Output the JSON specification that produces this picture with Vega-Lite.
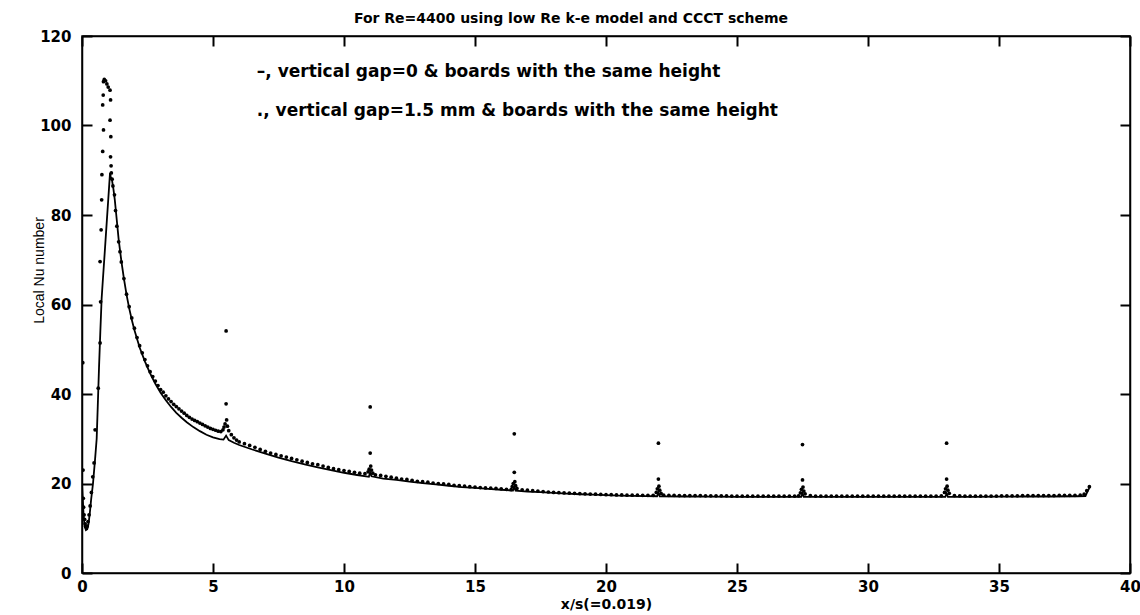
{
  "$schema": "https://vega.github.io/schema/vega-lite/v6.json",
  "autosize": {"type": "none"},
  "width": 1048,
  "height": 537,
  "padding": {"left": 82, "top": 36, "right": 10, "bottom": 42},
  "background": "white",
  "config": {
    "view": {"stroke": "black", "strokeWidth": 1.5},
    "axis": {"grid": false, "domainColor": "black", "domainWidth": 1.5, "tickColor": "#000000", "tickWidth": 2, "tickOpacity": 1, "labelColor": "black", "titleColor": "black"}
  },
  "title": {"text": "For Re=4400 using low Re k-e model and CCCT scheme", "font": "DejaVu Sans", "fontSize": 14, "fontWeight": "bold", "color": "black", "offset": 3, "dx": -35},
  "datasets": {
    "solid": [
      {"x": 0, "y": 20}, {"x": 0.03, "y": 16.5}, {"x": 0.06, "y": 13}, {"x": 0.1, "y": 10.5}, {"x": 0.15, "y": 9.6}, {"x": 0.2, "y": 9.8}, {"x": 0.25, "y": 11}, {"x": 0.3, "y": 13.5}, {"x": 0.35, "y": 16.5}, {"x": 0.42, "y": 20}, {"x": 0.5, "y": 25.5}, {"x": 0.56, "y": 30}, {"x": 0.6, "y": 37}, {"x": 0.65, "y": 46}, {"x": 0.7, "y": 54}, {"x": 0.75, "y": 61.4}, {"x": 0.8, "y": 65.8}, {"x": 0.85, "y": 70.1}, {"x": 0.9, "y": 74.5}, {"x": 0.95, "y": 78.9}, {"x": 1.0, "y": 83.3}, {"x": 1.04, "y": 86.8}, {"x": 1.07, "y": 89.4}, {"x": 1.1, "y": 88.5}, {"x": 1.15, "y": 87.6}, {"x": 1.2, "y": 85.8}, {"x": 1.25, "y": 83.5}, {"x": 1.3, "y": 80.5}, {"x": 1.4, "y": 74.5}, {"x": 1.5, "y": 69.8}, {"x": 1.6, "y": 65.8}, {"x": 1.7, "y": 62.2}, {"x": 1.8, "y": 59.2}, {"x": 1.9, "y": 56.6}, {"x": 2.0, "y": 54.3}, {"x": 2.2, "y": 50.4}, {"x": 2.4, "y": 47.3}, {"x": 2.6, "y": 44.6}, {"x": 2.8, "y": 42.3}, {"x": 3.0, "y": 40.3}, {"x": 3.2, "y": 38.6}, {"x": 3.4, "y": 37.1}, {"x": 3.6, "y": 35.8}, {"x": 3.8, "y": 34.7}, {"x": 4.0, "y": 33.7}, {"x": 4.25, "y": 32.6}, {"x": 4.5, "y": 31.7}, {"x": 4.75, "y": 30.9}, {"x": 5.0, "y": 30.3}, {"x": 5.25, "y": 29.9}, {"x": 5.4, "y": 29.8}, {"x": 5.5, "y": 30.7}, {"x": 5.55, "y": 30.2}, {"x": 5.6, "y": 29.7}, {"x": 5.8, "y": 29.1}, {"x": 6.0, "y": 28.6}, {"x": 6.5, "y": 27.6}, {"x": 7.0, "y": 26.7}, {"x": 7.5, "y": 25.8}, {"x": 8.0, "y": 25.0}, {"x": 8.5, "y": 24.3}, {"x": 9.0, "y": 23.6}, {"x": 9.5, "y": 23.0}, {"x": 10.0, "y": 22.4}, {"x": 10.5, "y": 21.9}, {"x": 10.95, "y": 21.5}, {"x": 11.0, "y": 22.5}, {"x": 11.05, "y": 21.6}, {"x": 11.5, "y": 21.1}, {"x": 12.0, "y": 20.8}, {"x": 12.5, "y": 20.4}, {"x": 13.0, "y": 20.1}, {"x": 13.5, "y": 19.8}, {"x": 14.0, "y": 19.5}, {"x": 14.5, "y": 19.2}, {"x": 15.0, "y": 19.0}, {"x": 15.5, "y": 18.8}, {"x": 16.0, "y": 18.6}, {"x": 16.45, "y": 18.4}, {"x": 16.5, "y": 19.3}, {"x": 16.55, "y": 18.4}, {"x": 17.0, "y": 18.2}, {"x": 17.5, "y": 18.05}, {"x": 18.0, "y": 17.9}, {"x": 18.5, "y": 17.75}, {"x": 19.0, "y": 17.6}, {"x": 19.5, "y": 17.5}, {"x": 20.0, "y": 17.4}, {"x": 20.5, "y": 17.3}, {"x": 21.0, "y": 17.25}, {"x": 21.5, "y": 17.2}, {"x": 21.95, "y": 17.15}, {"x": 22.0, "y": 18.0}, {"x": 22.05, "y": 17.15}, {"x": 23.0, "y": 17.1}, {"x": 24.0, "y": 17.05}, {"x": 25.0, "y": 17.0}, {"x": 26.0, "y": 17.0}, {"x": 27.0, "y": 17.0}, {"x": 27.45, "y": 17.0}, {"x": 27.5, "y": 17.8}, {"x": 27.55, "y": 17.0}, {"x": 28.0, "y": 17.0}, {"x": 29.0, "y": 17.0}, {"x": 30.0, "y": 17.0}, {"x": 31.0, "y": 17.0}, {"x": 32.0, "y": 17.0}, {"x": 32.95, "y": 17.0}, {"x": 33.0, "y": 17.8}, {"x": 33.05, "y": 17.0}, {"x": 34.0, "y": 17.0}, {"x": 35.0, "y": 17.05}, {"x": 36.0, "y": 17.1}, {"x": 37.0, "y": 17.1}, {"x": 38.0, "y": 17.15}, {"x": 38.3, "y": 17.2}, {"x": 38.4, "y": 18.5}, {"x": 38.45, "y": 19.0}
    ],
    "dots": [
      {"x": 0.03, "y": 47}, {"x": 0.04, "y": 23}, {"x": 0.05, "y": 16.7}, {"x": 0.06, "y": 14.7}, {"x": 0.08, "y": 13}, {"x": 0.1, "y": 12}, {"x": 0.12, "y": 11}, {"x": 0.14, "y": 10.4}, {"x": 0.17, "y": 10.1}, {"x": 0.2, "y": 10.5}, {"x": 0.23, "y": 11.5}, {"x": 0.27, "y": 13}, {"x": 0.31, "y": 15}, {"x": 0.36, "y": 18}, {"x": 0.41, "y": 21.5}, {"x": 0.46, "y": 24.6}, {"x": 0.5, "y": 32}, {"x": 0.62, "y": 41.3}, {"x": 0.69, "y": 51.4}, {"x": 0.71, "y": 60.6}, {"x": 0.69, "y": 69.6}, {"x": 0.73, "y": 76.7}, {"x": 0.75, "y": 83.4}, {"x": 0.76, "y": 89}, {"x": 0.79, "y": 94.2}, {"x": 0.82, "y": 99}, {"x": 0.79, "y": 104.6}, {"x": 0.81, "y": 106.8}, {"x": 0.82, "y": 109.8}, {"x": 0.85, "y": 110.3}, {"x": 0.9, "y": 110}, {"x": 0.95, "y": 109.3}, {"x": 1.0, "y": 108.6}, {"x": 1.07, "y": 107.9}, {"x": 1.09, "y": 105.7}, {"x": 1.07, "y": 101.2}, {"x": 1.1, "y": 97.5}, {"x": 1.09, "y": 93}, {"x": 1.11, "y": 91}, {"x": 1.12, "y": 89.4}, {"x": 1.15, "y": 88}, {"x": 1.18, "y": 86.5}, {"x": 1.24, "y": 84.5}, {"x": 1.28, "y": 81}, {"x": 1.33, "y": 77.5}, {"x": 1.4, "y": 74}, {"x": 1.45, "y": 71.8}, {"x": 1.5, "y": 69.5}, {"x": 1.6, "y": 65.8}, {"x": 1.7, "y": 62.3}, {"x": 1.8, "y": 59.5}, {"x": 1.9, "y": 57}, {"x": 2.0, "y": 54.7}, {"x": 2.1, "y": 52.6}, {"x": 2.2, "y": 50.8}, {"x": 2.3, "y": 49.2}, {"x": 2.4, "y": 47.7}, {"x": 2.5, "y": 46.3}, {"x": 2.6, "y": 45.0}, {"x": 2.7, "y": 43.9}, {"x": 2.8, "y": 42.9}, {"x": 2.9, "y": 41.9}, {"x": 3.0, "y": 41.0}, {"x": 3.1, "y": 40.4}, {"x": 3.2, "y": 39.6}, {"x": 3.3, "y": 38.9}, {"x": 3.4, "y": 38.3}, {"x": 3.5, "y": 37.7}, {"x": 3.6, "y": 37.2}, {"x": 3.7, "y": 36.7}, {"x": 3.8, "y": 36.2}, {"x": 3.9, "y": 35.7}, {"x": 4.0, "y": 35.2}, {"x": 4.1, "y": 34.8}, {"x": 4.2, "y": 34.4}, {"x": 4.3, "y": 34.1}, {"x": 4.4, "y": 33.8}, {"x": 4.5, "y": 33.5}, {"x": 4.6, "y": 33.2}, {"x": 4.7, "y": 32.9}, {"x": 4.8, "y": 32.6}, {"x": 4.9, "y": 32.3}, {"x": 5.0, "y": 32.1}, {"x": 5.1, "y": 31.9}, {"x": 5.2, "y": 31.7}, {"x": 5.3, "y": 31.6}, {"x": 5.38, "y": 32.0}, {"x": 5.42, "y": 32.6}, {"x": 5.46, "y": 33.3}, {"x": 5.5, "y": 54.1}, {"x": 5.5, "y": 37.8}, {"x": 5.52, "y": 34.2}, {"x": 5.55, "y": 32.8}, {"x": 5.6, "y": 31.8}, {"x": 5.7, "y": 30.9}, {"x": 5.8, "y": 30.2}, {"x": 5.9, "y": 29.7},
      {"x": 6.0, "y": 29.3}, {"x": 6.2, "y": 28.9}, {"x": 6.4, "y": 28.5}, {"x": 6.6, "y": 28.1}, {"x": 6.8, "y": 27.6}, {"x": 7.0, "y": 27.2}, {"x": 7.2, "y": 26.8}, {"x": 7.4, "y": 26.5}, {"x": 7.6, "y": 26.2}, {"x": 7.8, "y": 25.9}, {"x": 8.0, "y": 25.6}, {"x": 8.2, "y": 25.3}, {"x": 8.4, "y": 25.0}, {"x": 8.6, "y": 24.7}, {"x": 8.8, "y": 24.4}, {"x": 9.0, "y": 24.2}, {"x": 9.2, "y": 23.9}, {"x": 9.4, "y": 23.6}, {"x": 9.6, "y": 23.3}, {"x": 9.8, "y": 23.1}, {"x": 10.0, "y": 22.9}, {"x": 10.2, "y": 22.7}, {"x": 10.4, "y": 22.5}, {"x": 10.6, "y": 22.3}, {"x": 10.8, "y": 22.2},
      {"x": 10.92, "y": 22.6}, {"x": 10.96, "y": 23.2}, {"x": 11.0, "y": 37.1}, {"x": 11.0, "y": 26.8}, {"x": 11.02, "y": 23.9}, {"x": 11.05, "y": 23.0}, {"x": 11.1, "y": 22.3}, {"x": 11.2, "y": 21.95},
      {"x": 11.4, "y": 21.8}, {"x": 11.6, "y": 21.6}, {"x": 11.8, "y": 21.4}, {"x": 12.0, "y": 21.2}, {"x": 12.2, "y": 21.0}, {"x": 12.4, "y": 20.9}, {"x": 12.6, "y": 20.7}, {"x": 12.8, "y": 20.5}, {"x": 13.0, "y": 20.4}, {"x": 13.2, "y": 20.3}, {"x": 13.4, "y": 20.1}, {"x": 13.6, "y": 20.0}, {"x": 13.8, "y": 19.9}, {"x": 14.0, "y": 19.8}, {"x": 14.2, "y": 19.6}, {"x": 14.4, "y": 19.5}, {"x": 14.6, "y": 19.4}, {"x": 14.8, "y": 19.3}, {"x": 15.0, "y": 19.2}, {"x": 15.2, "y": 19.1}, {"x": 15.4, "y": 19.0}, {"x": 15.6, "y": 18.95}, {"x": 15.8, "y": 18.9}, {"x": 16.0, "y": 18.8}, {"x": 16.2, "y": 18.7}, {"x": 16.38, "y": 18.65},
      {"x": 16.42, "y": 19.3}, {"x": 16.46, "y": 20.0}, {"x": 16.5, "y": 31.1}, {"x": 16.5, "y": 22.5}, {"x": 16.52, "y": 20.4}, {"x": 16.55, "y": 19.5}, {"x": 16.6, "y": 18.9},
      {"x": 16.8, "y": 18.6}, {"x": 17.0, "y": 18.5}, {"x": 17.2, "y": 18.4}, {"x": 17.4, "y": 18.3}, {"x": 17.6, "y": 18.2}, {"x": 17.8, "y": 18.1}, {"x": 18.0, "y": 18.0}, {"x": 18.2, "y": 17.95}, {"x": 18.4, "y": 17.9}, {"x": 18.6, "y": 17.85}, {"x": 18.8, "y": 17.8}, {"x": 19.0, "y": 17.75}, {"x": 19.2, "y": 17.7}, {"x": 19.4, "y": 17.65}, {"x": 19.6, "y": 17.6}, {"x": 19.8, "y": 17.55}, {"x": 20.0, "y": 17.5}, {"x": 20.2, "y": 17.5}, {"x": 20.4, "y": 17.45}, {"x": 20.6, "y": 17.45}, {"x": 20.8, "y": 17.4}, {"x": 21.0, "y": 17.4}, {"x": 21.2, "y": 17.4}, {"x": 21.4, "y": 17.35}, {"x": 21.6, "y": 17.35}, {"x": 21.8, "y": 17.35},
      {"x": 21.92, "y": 18.0}, {"x": 21.96, "y": 18.8}, {"x": 22.0, "y": 29.0}, {"x": 22.0, "y": 21.0}, {"x": 22.02, "y": 19.4}, {"x": 22.05, "y": 18.5}, {"x": 22.1, "y": 17.8},
      {"x": 22.2, "y": 17.4}, {"x": 22.4, "y": 17.35}, {"x": 22.6, "y": 17.35}, {"x": 22.8, "y": 17.3}, {"x": 23.0, "y": 17.3}, {"x": 23.2, "y": 17.3}, {"x": 23.4, "y": 17.3}, {"x": 23.6, "y": 17.3}, {"x": 23.8, "y": 17.25}, {"x": 24.0, "y": 17.25}, {"x": 24.2, "y": 17.25}, {"x": 24.4, "y": 17.25}, {"x": 24.6, "y": 17.25}, {"x": 24.8, "y": 17.2}, {"x": 25.0, "y": 17.2}, {"x": 25.2, "y": 17.2}, {"x": 25.4, "y": 17.2}, {"x": 25.6, "y": 17.2}, {"x": 25.8, "y": 17.2}, {"x": 26.0, "y": 17.2}, {"x": 26.2, "y": 17.2}, {"x": 26.4, "y": 17.2}, {"x": 26.6, "y": 17.2}, {"x": 26.8, "y": 17.2}, {"x": 27.0, "y": 17.2}, {"x": 27.2, "y": 17.2}, {"x": 27.35, "y": 17.25},
      {"x": 27.42, "y": 17.9}, {"x": 27.46, "y": 18.7}, {"x": 27.5, "y": 28.7}, {"x": 27.5, "y": 20.8}, {"x": 27.52, "y": 19.2}, {"x": 27.55, "y": 18.3}, {"x": 27.6, "y": 17.7},
      {"x": 27.8, "y": 17.3}, {"x": 28.0, "y": 17.2}, {"x": 28.2, "y": 17.2}, {"x": 28.4, "y": 17.2}, {"x": 28.6, "y": 17.2}, {"x": 28.8, "y": 17.2}, {"x": 29.0, "y": 17.2}, {"x": 29.2, "y": 17.2}, {"x": 29.4, "y": 17.2}, {"x": 29.6, "y": 17.2}, {"x": 29.8, "y": 17.2}, {"x": 30.0, "y": 17.2}, {"x": 30.2, "y": 17.2}, {"x": 30.4, "y": 17.2}, {"x": 30.6, "y": 17.2}, {"x": 30.8, "y": 17.2}, {"x": 31.0, "y": 17.2}, {"x": 31.2, "y": 17.2}, {"x": 31.4, "y": 17.2}, {"x": 31.6, "y": 17.2}, {"x": 31.8, "y": 17.2}, {"x": 32.0, "y": 17.2}, {"x": 32.2, "y": 17.2}, {"x": 32.4, "y": 17.2}, {"x": 32.6, "y": 17.2}, {"x": 32.8, "y": 17.25},
      {"x": 32.92, "y": 18.0}, {"x": 32.96, "y": 18.8}, {"x": 33.0, "y": 29.0}, {"x": 33.0, "y": 21.0}, {"x": 33.02, "y": 19.4}, {"x": 33.05, "y": 18.5}, {"x": 33.1, "y": 17.8},
      {"x": 33.3, "y": 17.3}, {"x": 33.5, "y": 17.25}, {"x": 33.7, "y": 17.2}, {"x": 33.9, "y": 17.2}, {"x": 34.1, "y": 17.2}, {"x": 34.3, "y": 17.2}, {"x": 34.5, "y": 17.2}, {"x": 34.7, "y": 17.2}, {"x": 34.9, "y": 17.2}, {"x": 35.1, "y": 17.25}, {"x": 35.3, "y": 17.25}, {"x": 35.5, "y": 17.25}, {"x": 35.7, "y": 17.25}, {"x": 35.9, "y": 17.3}, {"x": 36.1, "y": 17.3}, {"x": 36.3, "y": 17.3}, {"x": 36.5, "y": 17.3}, {"x": 36.7, "y": 17.3}, {"x": 36.9, "y": 17.3}, {"x": 37.1, "y": 17.3}, {"x": 37.3, "y": 17.35}, {"x": 37.5, "y": 17.35}, {"x": 37.7, "y": 17.35}, {"x": 37.9, "y": 17.35}, {"x": 38.1, "y": 17.4}, {"x": 38.25, "y": 17.6}, {"x": 38.35, "y": 18.4}, {"x": 38.45, "y": 19.3}
    ]
  },
  "resolve": {"axis": {"x": "independent", "y": "independent"}},
  "layer": [
    {
      "data": {"name": "solid"},
      "mark": {"type": "line", "color": "black", "strokeWidth": 1.8, "clip": true},
      "encoding": {
        "x": {"field": "x", "type": "quantitative", "scale": {"domain": [0, 40], "nice": false, "zero": false},
          "axis": {"orient": "bottom", "values": [0, 5, 10, 15, 20, 25, 30, 35, 40], "ticks": true, "tickSize": -10, "labelPadding": 16, "labelFont": "DejaVu Sans", "labelFontSize": 15, "labelFontWeight": "bold", "title": "x/s(=0.019)", "titleFont": "DejaVu Sans", "titleFontSize": 14, "titleFontWeight": "bold", "titlePadding": 3, "labelFlush": false}},
        "y": {"field": "y", "type": "quantitative", "scale": {"domain": [0, 120], "nice": false, "zero": false},
          "axis": {"orient": "left", "values": [0, 20, 40, 60, 80, 100, 120], "ticks": true, "tickSize": -10, "labelPadding": 21, "labelFont": "DejaVu Sans", "labelFontSize": 15, "labelFontWeight": "bold", "title": "Local Nu number", "titleFont": "Liberation Sans Narrow, Liberation Sans", "titleFontSize": 14, "titleFontWeight": "normal", "titleX": -43, "titleY": 234, "titleBaseline": "middle", "titleAlign": "center", "titleAngle": -90}}
      }
    },
    {
      "data": {"name": "dots"},
      "mark": {"type": "point", "filled": true, "color": "black", "size": 14, "opacity": 1, "clip": true},
      "encoding": {
        "x": {"field": "x", "type": "quantitative", "axis": {"orient": "top", "values": [0, 5, 10, 15, 20, 25, 30, 35, 40], "ticks": true, "tickSize": -10, "domain": true, "labels": false, "title": null}},
        "y": {"field": "y", "type": "quantitative", "axis": {"orient": "right", "values": [0, 20, 40, 60, 80, 100, 120], "ticks": true, "tickSize": -10, "domain": true, "labels": false, "title": null}}
      }
    },
    {
      "data": {"values": [{}]},
      "mark": {"type": "text", "text": "–, vertical gap=0 & boards with the same height", "align": "left", "baseline": "middle", "font": "DejaVu Sans", "fontSize": 17, "fontWeight": "bold", "color": "black"},
      "encoding": {
        "x": {"datum": 6.67, "type": "quantitative", "axis": null},
        "y": {"datum": 112, "type": "quantitative", "axis": null}
      }
    },
    {
      "data": {"values": [{}]},
      "mark": {"type": "text", "text": "., vertical gap=1.5 mm & boards with the same height", "align": "left", "baseline": "middle", "font": "DejaVu Sans", "fontSize": 17, "fontWeight": "bold", "color": "black"},
      "encoding": {
        "x": {"datum": 6.67, "type": "quantitative", "axis": null},
        "y": {"datum": 103.2, "type": "quantitative", "axis": null}
      }
    }
  ]
}
